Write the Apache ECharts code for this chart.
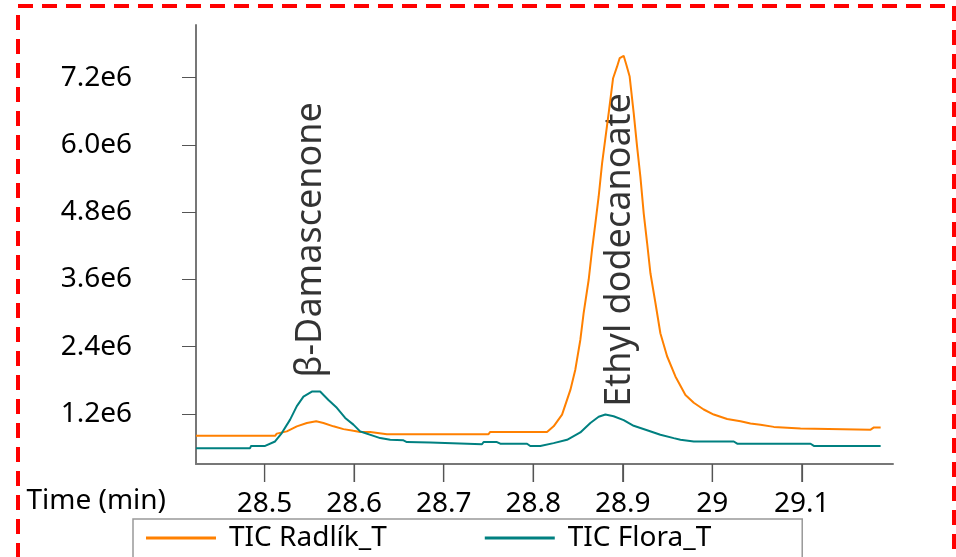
<!DOCTYPE html>
<html lang="en">
<head>
    <meta charset="UTF-8">
    <title>TIC</title>
    <script src="https://cdn.jsdelivr.net/npm/echarts@6.0.0/dist/echarts.min.js"></script>
    <style>
        html, body { margin: 0; padding: 0; background: #fff; }
    </style>
</head>
<body>
<div id="main" style="width: 956px;height:557px;"></div>

<script type="text/javascript">
    // retention time (min) and TIC intensity (x 1e6)
    var radlikTime = [28.4234, 28.4726, 28.5117, 28.5136, 28.5248, 28.5360, 28.5472, 28.5576, 28.5657, 28.5769,
        28.5881, 28.5992, 28.6067, 28.6179, 28.6366, 28.7501, 28.7520, 28.8154, 28.8228, 28.8322,
        28.8415, 28.8470, 28.8526, 28.8563, 28.8619, 28.8657, 28.8694, 28.8731, 28.8769, 28.8806,
        28.8843, 28.8892, 28.8937, 28.8966, 28.9010, 28.9040, 28.9077, 28.9122, 28.9160, 28.9197,
        28.9234, 28.9272, 28.9309, 28.9365, 28.9420, 28.9495, 28.9588, 28.9700, 28.9793, 28.9904,
        29.0016, 29.0166, 29.0315, 29.0426, 29.0538, 29.0687, 29.0985, 29.1004, 29.1768, 29.1805, 29.1880];
    var radlikTic = [0.81, 0.81, 0.81, 0.85, 0.89, 0.98, 1.04, 1.07, 1.04, 0.98,
        0.93, 0.90, 0.88, 0.88, 0.84, 0.84, 0.88, 0.88, 0.98, 1.19,
        1.63, 1.99, 2.52, 3.00, 3.59, 4.13, 4.60, 5.08, 5.67, 6.12,
        6.57, 7.19, 7.40, 7.55, 7.59, 7.43, 7.22, 6.57, 5.97, 5.43,
        4.78, 4.25, 3.71, 3.18, 2.64, 2.23, 1.87, 1.54, 1.40, 1.28,
        1.19, 1.11, 1.07, 1.03, 1.01, 0.97, 0.94, 0.92, 0.92, 0.96, 0.96];

    var floraTime = [28.4234, 28.4838, 28.4849, 28.5006, 28.5117, 28.5192, 28.5285, 28.5360, 28.5434, 28.5528,
        28.5620, 28.5713, 28.5807, 28.5900, 28.5992, 28.6067, 28.6104, 28.6216, 28.6291, 28.6403,
        28.6551, 28.6589, 28.6850, 28.6869, 28.7428, 28.7446, 28.7595, 28.7632, 28.7931, 28.7967,
        28.8079, 28.8228, 28.8378, 28.8526, 28.8638, 28.8731, 28.8806, 28.8898, 28.9010, 28.9122,
        28.9272, 28.9420, 28.9569, 28.9644, 28.9793, 29.0240, 29.0278, 29.1097, 29.1134, 29.1880];
    var floraTic = [0.59, 0.59, 0.63, 0.63, 0.71, 0.86, 1.10, 1.34, 1.51, 1.60,
        1.60, 1.45, 1.31, 1.13, 1.01, 0.89, 0.87, 0.81, 0.77, 0.74,
        0.73, 0.70, 0.69, 0.66, 0.66, 0.70, 0.70, 0.67, 0.67, 0.63,
        0.63, 0.68, 0.74, 0.87, 1.04, 1.15, 1.19, 1.16, 1.09, 0.99,
        0.91, 0.83, 0.77, 0.74, 0.71, 0.71, 0.67, 0.67, 0.63, 0.63];

    var xTicks = [28.5, 28.6, 28.7, 28.8, 28.9, 29.0, 29.1];
    var yTicks = [1.2, 2.4, 3.6, 4.8, 6.0, 7.2];

    // peak annotations (label foot, in data units)
    var peakNames = ['β-Damascenone', 'Ethyl dodecanoate'];
    var peakTimes = [28.552, 28.8962];
    var peakLabelY = [1.85, 1.33];

    function pairs(xs, ys) {
        return xs.map(function (x, i) { return [x, ys[i] * 1e6]; });
    }

    var font = 'Noto Sans';
    var xMin = 28.4234, xMax = 29.2018;
    var yMin = 0.308e6, yMax = 8.139e6;
    var myChart = echarts.init(document.getElementById('main'));
    var option = {
        animation: false,
        color: ['#ff8000', '#008080'],
        grid: {
            left: 196,
            right: 63,
            top: 25,
            bottom: 93
        },
        legend: {
            data: ['TIC Radlík_T', 'TIC Flora_T'],
            left: 133,
            top: 519,
            padding: [4, 91, 30, 13],
            borderColor: '#999',
            borderWidth: 1.5,
            icon: 'rect',
            itemWidth: 70,
            itemHeight: 3,
            itemGap: 98,
            textStyle: {
                fontFamily: font,
                fontSize: 28,
                lineHeight: 30,
                color: '#000',
                padding: [0, 0, 0, 8]
            }
        },
        xAxis: {
            type: 'value',
            min: xMin,
            max: xMax,
            name: 'Time (min)',
            nameLocation: 'start',
            nameGap: 30,
            nameTextStyle: {
                fontFamily: font,
                fontSize: 28,
                color: '#000',
                align: 'right',
                verticalAlign: 'top',
                lineHeight: 74
            },
            splitLine: { show: false },
            axisLine: { show: true, lineStyle: { color: '#777', width: 2 } },
            axisTick: {
                show: true,
                length: 18,
                lineStyle: { color: '#555', width: 1.2 },
                customValues: xTicks
            },
            axisLabel: {
                fontFamily: font,
                fontSize: 28,
                color: '#000',
                margin: 26,
                customValues: xTicks
            }
        },
        yAxis: {
            type: 'value',
            min: yMin,
            max: yMax,
            splitLine: { show: false },
            axisLine: { show: true, lineStyle: { color: '#777', width: 2 } },
            axisTick: {
                show: true,
                length: 14,
                lineStyle: { color: '#555', width: 1 },
                customValues: yTicks.map(function (v) { return v * 1e6; })
            },
            axisLabel: {
                fontFamily: font,
                fontSize: 28,
                color: '#000',
                margin: 64,
                customValues: yTicks.map(function (v) { return v * 1e6; }),
                formatter: function (v) { return (v / 1e6).toFixed(1) + 'e6'; }
            }
        },
        series: [
            {
                name: 'TIC Radlík_T',
                type: 'line',
                symbol: 'none',
                lineStyle: { width: 2 },
                data: pairs(radlikTime, radlikTic)
            },
            {
                name: 'TIC Flora_T',
                type: 'line',
                symbol: 'none',
                lineStyle: { width: 2 },
                data: pairs(floraTime, floraTic)
            },
            {
                name: 'peaks',
                type: 'scatter',
                symbolSize: 0,
                silent: true,
                data: peakNames.map(function (n, i) {
                    return { name: n, value: [peakTimes[i], peakLabelY[i] * 1e6] };
                }),
                label: {
                    show: true,
                    position: 'inside',
                    rotate: 90,
                    align: 'left',
                    verticalAlign: 'middle',
                    fontFamily: font,
                    fontSize: 36,
                    color: '#000',
                    formatter: '{b}'
                }
            },
            {
                // downward time-axis ticks, placed through the x scale
                name: 'xticks',
                type: 'custom',
                silent: true,
                clip: false,
                encode: { x: 0, y: 1 },
                data: xTicks.map(function (t) { return [t, yMin]; }),
                renderItem: function (params, api) {
                    var p = api.coord([api.value(0), api.value(1)]);
                    return {
                        type: 'line',
                        shape: { x1: p[0], y1: p[1], x2: p[0], y2: p[1] + 18 },
                        style: { stroke: '#555', lineWidth: 1.2 }
                    };
                }
            }
        ],
        graphic: [
            {
                type: 'rect',
                shape: { x: 18, y: 6, width: 936, height: 600 },
                style: { fill: 'none', stroke: '#ff0000', lineWidth: 4, lineDash: [15, 9] },
                silent: true
            }
        ]
    };
    myChart.setOption(option);
</script>
</body>
</html>
